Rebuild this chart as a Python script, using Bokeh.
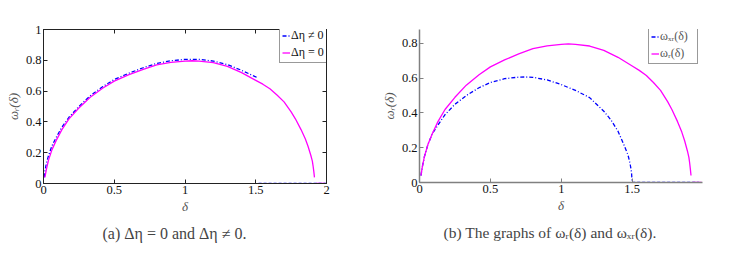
from bokeh.plotting import figure
from bokeh.layouts import row
from bokeh.models import Range1d, LinearAxis, FixedTicker, Legend, LegendItem
from bokeh.embed import file_html
from bokeh.resources import INLINE

# ---------------- data ----------------
# omega_r(delta)  (Delta eta = 0), same curve in both panels
delta_r = [0.01, 0.02, 0.035, 0.06, 0.09, 0.13, 0.18, 0.25, 0.33, 0.42, 0.5, 0.6, 0.7, 0.8,
           0.9, 1.0, 1.05, 1.1, 1.2, 1.3, 1.4, 1.5, 1.55, 1.6, 1.65, 1.7, 1.75, 1.78, 1.82,
           1.85, 1.87, 1.89, 1.9, 1.905, 1.91, 1.915]
omega_r = [0.04, 0.09, 0.15, 0.22, 0.28, 0.35, 0.42, 0.49, 0.56, 0.62, 0.665, 0.705, 0.74, 0.77,
           0.786, 0.795, 0.797, 0.795, 0.785, 0.76, 0.72, 0.67, 0.645, 0.615, 0.575, 0.53, 0.465,
           0.42, 0.35, 0.29, 0.24, 0.18, 0.145, 0.115, 0.08, 0.04]
delta_r_tail = [1.925, 1.99]
omega_r_tail = [0.0, 0.0]

# Delta eta != 0 (panel a)
delta_eta = [0.005, 0.01, 0.02, 0.035, 0.06, 0.09, 0.13, 0.18, 0.25, 0.33, 0.42, 0.5, 0.6, 0.7,
             0.8, 0.9, 1.0, 1.1, 1.2, 1.3, 1.4, 1.5, 1.507]
omega_eta = [0.04, 0.08, 0.13, 0.18, 0.245, 0.30, 0.365, 0.43, 0.50, 0.57, 0.63, 0.675, 0.715, 0.75,
             0.78, 0.797, 0.806, 0.806, 0.795, 0.772, 0.735, 0.692, 0.69]
delta_eta_tail = [1.52, 2.0]
omega_eta_tail = [0.0, 0.0]

# omega_xr(delta) (panel b)
delta_xr = [0.01, 0.02, 0.035, 0.06, 0.09, 0.13, 0.18, 0.25, 0.33, 0.42, 0.5, 0.6, 0.7, 0.75,
            0.8, 0.9, 1.0, 1.1, 1.2, 1.3, 1.35, 1.4, 1.44, 1.47, 1.485, 1.495, 1.5]
omega_xr = [0.04, 0.09, 0.15, 0.22, 0.28, 0.33, 0.39, 0.45, 0.50, 0.545, 0.575, 0.597, 0.606, 0.607,
            0.605, 0.59, 0.563, 0.53, 0.488, 0.41, 0.36, 0.295, 0.22, 0.16, 0.11, 0.06, 0.0]
delta_xr_tail = [1.5, 1.97]
omega_xr_tail = [0.0, 0.0]

xticks_a = [0, 0.5, 1, 1.5, 2]
xlabels_a = ["0", "0.5", "1", "1.5", "2"]
yticks_a = [0, 0.2, 0.4, 0.6, 0.8, 1]
ylabels_a = ["0", "0.2", "0.4", "0.6", "0.8", "1"]
xticks_b = [0, 0.5, 1, 1.5]
xlabels_b = ["0", "0.5", "1", "1.5"]
yticks_b = [0, 0.2, 0.4, 0.6, 0.8]
ylabels_b = ["0", "0.2", "0.4", "0.6", "0.8"]

caption_a = "(a)  Δη = 0 and Δη ≠ 0."
caption_b = "(b)  The graphs of ωᵣ(δ) and ωₓᵣ(δ)."
ylabel = "ωᵣ(δ)"
xlabel = "δ"

SERIF = "Liberation Serif"
BLUE = "#0000ff"
MAGENTA = "#ff00ff"
DASH = "4 2 1 2"


def style_axis(ax, ticks, labels, color, show_labels=True):
    ax.ticker = FixedTicker(ticks=ticks)
    if show_labels:
        ax.major_label_overrides = {t: l for t, l in zip(ticks, labels)}
    else:
        ax.major_label_overrides = {t: "" for t in ticks}
    ax.major_tick_in = 4
    ax.major_tick_out = 0
    ax.minor_tick_line_color = None
    ax.axis_line_color = color
    ax.major_tick_line_color = color
    ax.major_label_text_font = SERIF
    ax.major_label_text_font_size = "12.5px"
    ax.major_label_text_color = "#111111"
    ax.major_label_standoff = 2
    ax.axis_label_text_font = SERIF
    ax.axis_label_text_font_style = "italic"
    ax.axis_label_text_font_size = "13px"
    ax.axis_label_text_color = "#555555"
    ax.axis_label_standoff = 2


# ---------------- panel (a) ----------------
pa = figure(frame_width=283, frame_height=154, output_backend="svg", toolbar_location=None,
            x_range=Range1d(0, 2), y_range=Range1d(0, 1),
            min_border_left=43, min_border_right=33, min_border_top=29, min_border_bottom=57,
            title=caption_a, title_location="below")
pa.grid.visible = False
pa.outline_line_color = "#222222"
pa.outline_line_width = 1
style_axis(pa.xaxis[0], xticks_a, xlabels_a, "#222222")
style_axis(pa.yaxis[0], yticks_a, ylabels_a, "#222222")
pa.xaxis[0].axis_label = xlabel
pa.yaxis[0].axis_label = ylabel
ax_top = LinearAxis()
style_axis(ax_top, xticks_a, xlabels_a, "#222222", show_labels=False)
ax_top.major_label_standoff = 0
pa.add_layout(ax_top, "above")
ax_right = LinearAxis()
style_axis(ax_right, yticks_a, ylabels_a, "#222222", show_labels=False)
ax_right.major_label_standoff = 0
pa.add_layout(ax_right, "right")

la1 = pa.line(delta_eta, omega_eta, line_color=BLUE, line_width=1.3, line_dash=DASH)
pa.line(delta_eta_tail, omega_eta_tail, line_color=BLUE, line_width=1.3, line_dash="3 2")
la2 = pa.line(delta_r, omega_r, line_color=MAGENTA, line_width=1.3)
pa.line(delta_r_tail, omega_r_tail, line_color=MAGENTA, line_width=1.3)

leg_a = Legend(items=[LegendItem(label="Δη ≠ 0", renderers=[la1]),
                      LegendItem(label="Δη = 0", renderers=[la2])],
               location=(236, 120))
pa.add_layout(leg_a)

pa.title.text_font = SERIF
pa.title.text_font_size = "16px"
pa.title.text_font_style = "normal"
pa.title.align = "left"
pa.title.offset = 59
pa.title.standoff = 12

# ---------------- panel (b) ----------------
pb = figure(frame_width=283, frame_height=153, output_backend="svg", toolbar_location=None,
            x_range=Range1d(0, 1.996), y_range=Range1d(0, 0.88),
            min_border_left=60, min_border_right=20, min_border_top=29, min_border_bottom=58,
            title=caption_b, title_location="below")
pb.grid.visible = False
pb.outline_line_color = None
style_axis(pb.xaxis[0], xticks_b, xlabels_b, "#808080")
style_axis(pb.yaxis[0], yticks_b, ylabels_b, "#808080")
pb.xaxis[0].axis_line_width = 1.5
pb.yaxis[0].axis_line_width = 1.5
pb.xaxis[0].axis_label = xlabel
pb.yaxis[0].axis_label = ylabel

lb1 = pb.line(delta_xr, omega_xr, line_color=BLUE, line_width=1.3, line_dash=DASH)
pb.line(delta_xr_tail, omega_xr_tail, line_color=BLUE, line_width=1.3, line_dash="3 2")
lb2 = pb.line(delta_r, omega_r, line_color=MAGENTA, line_width=1.3)
pb.line(delta_r_tail, omega_r_tail, line_color=MAGENTA, line_width=1.3)

leg_b = Legend(items=[LegendItem(label="ωₓᵣ(δ)", renderers=[lb1]),
                      LegendItem(label="ωᵣ(δ)", renderers=[lb2])],
               location=(229, 118))
pb.add_layout(leg_b)

pb.title.text_font = SERIF
pb.title.text_font_size = "15.5px"
pb.title.text_font_style = "normal"
pb.title.align = "left"
pb.title.offset = 24
pb.title.standoff = 12

for lg, col, lw in [(leg_a, "#111111", 36), (leg_b, "#555555", 35)]:
    lg.label_text_font = SERIF
    lg.label_text_font_size = "12px"
    lg.label_text_color = col
    lg.label_height = 13
    lg.label_width = lw
    lg.glyph_width = 8
    lg.glyph_height = 13
    lg.label_standoff = 1
    lg.padding = 2
    lg.spacing = 2
    lg.margin = 0
    lg.border_line_color = "#333333"
    lg.border_line_width = 1
    lg.background_fill_alpha = 1

layout = row(pa, pb)
open("out.html", "w").write(file_html(layout, INLINE))
